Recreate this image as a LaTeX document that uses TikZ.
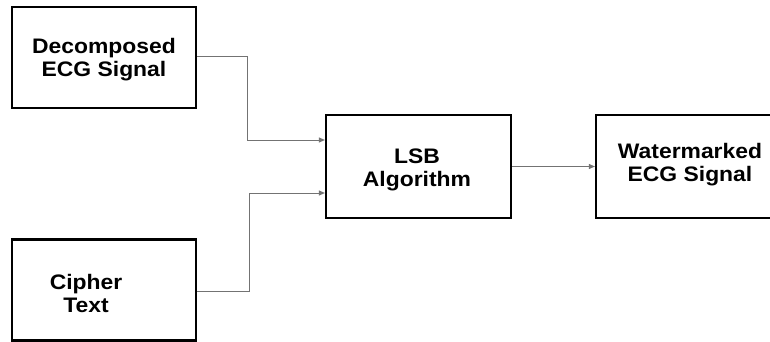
\documentclass[tikz,border=0pt]{standalone}
\usepackage{fontspec}
\setmainfont{Liberation Sans}
\usetikzlibrary{arrows.meta}
\tikzset{
  blk/.style={draw=black, line width=2.2pt, minimum width=#1, inner sep=0pt},
  lbl/.style={font=\fontsize{21}{23}\selectfont\bfseries, align=center, inner sep=0pt, xscale=1.09},
  conn/.style={draw=black!55, line width=1pt, -{Triangle[length=6pt,width=5pt]}}
}
\begin{document}
\begin{tikzpicture}[x=1pt,y=-1pt]
\useasboundingbox (0,0) rectangle (770,342);
\clip (0,0) rectangle (770,342);
\node[blk=184pt, minimum height=101pt] (dec) at (104,57.5) {};
\node[lbl] at (104,60) {Decomposed\\ECG Signal};
\node[blk=184pt, minimum height=101pt] (cip) at (104,290) {};
\node[lbl] at (86,293) {Cipher\\Text};
\node[blk=185pt, minimum height=103pt] (lsb) at (418.5,166.5) {};
\node[lbl] at (417,169.5) {LSB\\Algorithm};
\node[blk=190pt, minimum height=103pt] (wm) at (691,166.5) {};
\node[lbl] at (690,165) {Watermarked\\ECG Signal};
\coordinate (a1) at (247,57);
\coordinate (a2) at (247,140);
\coordinate (b1) at (249,291);
\coordinate (b2) at (249,193);
\draw[conn] (dec.east |- a1) -- (a1) -- (a2) -- (lsb.west |- a2);
\draw[conn] (cip.east |- b1) -- (b1) -- (b2) -- (lsb.west |- b2);
\draw[conn] (lsb.east) -- (wm.west |- lsb.east);
\end{tikzpicture}
\end{document}
